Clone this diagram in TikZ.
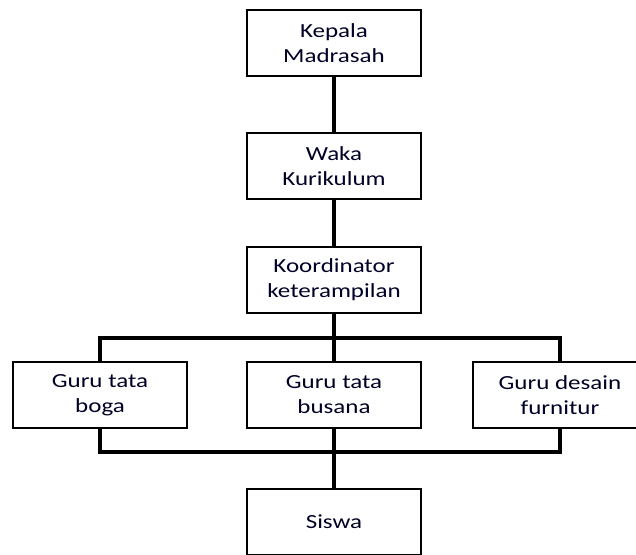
\documentclass[tikz,border=0pt]{standalone}
\usepackage{fontspec}
\setmainfont[FakeStretch=1.25]{Carlito}
\begin{document}
\begin{tikzpicture}[x=1pt,y=-1pt,
  unit/.style={draw=black, line width=2.4pt, fill=white, minimum width=174pt,
    minimum height=66pt, inner sep=0pt, align=center,
    font=\fontsize{20}{25}\selectfont, text=black!85!blue},
  link/.style={line width=3.4pt, black}]
\useasboundingbox (0,0) rectangle (636,554);
\begin{scope}
\clip (0,0) rectangle (636,554);
% hierarchy boxes
\node[unit] (kepala) at (334,43)  {Kepala\\Madrasah};
\node[unit] (waka)   at (334,166) {Waka\\Kurikulum};
\node[unit] (koord)  at (334,280) {Koordinator\\keterampilan};
\node[unit] (boga)   at (100,395) {Guru tata\\boga};
\node[unit] (busana) at (334,395) {Guru tata\\busana};
\node[unit] (desain) at (560,395) {Guru desain\\furnitur};
\node[unit] (siswa)  at (334,522) {Siswa};
% bus lines above and below the teachers
\coordinate (tb) at (334,338);
\coordinate (bb) at (334,452);
% connectors
\draw[link] (kepala) -- (waka);
\draw[link] (waka) -- (koord);
\draw[link] (koord) -- (busana);
\draw[link, line cap=rect] (boga.north) -- (boga.north |- tb) -- (desain.north |- tb) -- (desain.north);
\draw[link, line cap=rect] (boga.south) -- (boga.south |- bb) -- (desain.south |- bb) -- (desain.south);
\draw[link] (busana) -- (siswa);
\end{scope}
\end{tikzpicture}
\end{document}
